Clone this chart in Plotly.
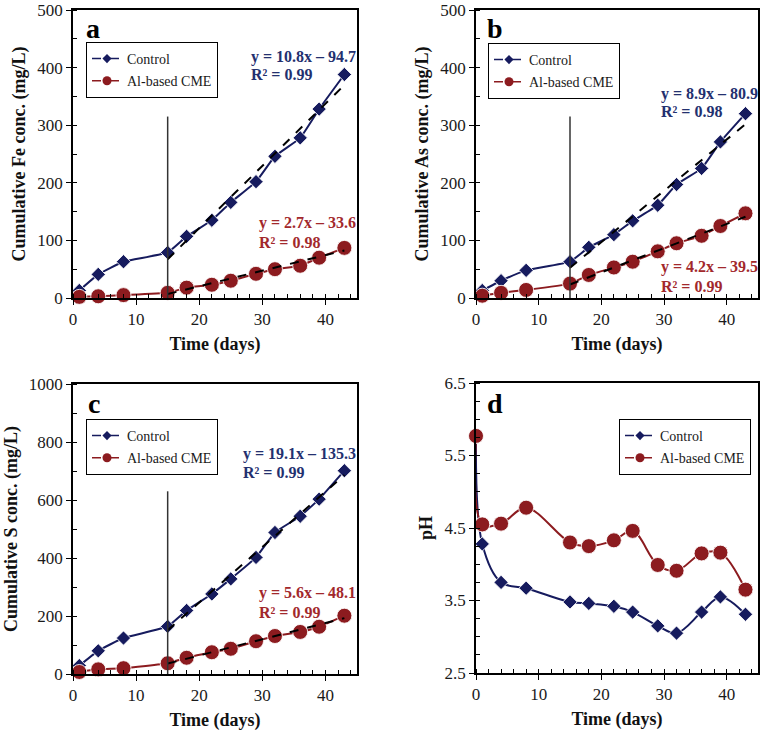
import plotly.graph_objects as go

# ---------------- data ----------------
days = [1, 4, 8, 15, 18, 22, 25, 29, 32, 36, 39, 43]

fe_control = [13, 41, 63, 79, 107, 135, 166, 202, 246, 278, 328, 388]
fe_al = [2, 3, 5, 9, 18, 23, 30, 42, 50, 56, 70, 87]

as_control = [13, 30, 48, 63, 88, 110, 134, 161, 197, 225, 271, 320]
as_al = [4, 9, 14, 25, 40, 53, 63, 81, 95, 108, 125, 147]

s_control = [29, 80, 124, 164, 219, 276, 328, 402, 488, 544, 603, 701]
s_al = [7, 16, 20, 37, 56, 75, 87, 113, 131, 145, 163, 201]

ph_days = [0, 1, 4, 8, 15, 18, 22, 25, 29, 32, 36, 39, 43]
ph_control = [5.77, 4.28, 3.75, 3.67, 3.48, 3.46, 3.42, 3.34, 3.15, 3.05, 3.34, 3.55, 3.31]
ph_al = [5.77, 4.55, 4.56, 4.78, 4.30, 4.25, 4.33, 4.46, 3.99, 3.91, 4.15, 4.16, 3.65]

fit_days = [15, 43]
fit_control = {"a": (10.8, -94.7, 0.99), "b": (8.9, -80.9, 0.98), "c": (19.1, -135.3, 0.99)}
fit_al = {"a": (2.7, -33.6, 0.98), "b": (4.2, -39.5, 0.99), "c": (5.6, -48.1, 0.99)}

split_day = 15
split_top = {"a": 315, "b": 315, "c": 630}

series_names = ["Control", "Al-based CME"]
y_titles = ["Cumulative Fe conc. (mg/L)", "Cumulative As conc. (mg/L)",
            "Cumulative S conc. (mg/L)", "pH"]

# ---------------- style ----------------
W, H = 761, 732
NAVY = "#161b5e"
RED = "#8c1b1f"
EQ_BLUE = "#23306f"
EQ_RED = "#a2282c"
FONT = "Liberation Serif"


def px(x):
    return x / W


def py(y):
    return 1 - y / H


fig = go.Figure()

panels = {
    "a": dict(xa="x", ya="y", xd=(73, 357), yd=(10, 298), leg="legend",
              ctrl=fe_control, al=fe_al),
    "b": dict(xa="x2", ya="y2", xd=(476, 758), yd=(10, 298), leg="legend2",
              ctrl=as_control, al=as_al),
    "c": dict(xa="x3", ya="y3", xd=(73, 357), yd=(384, 674), leg="legend3",
              ctrl=s_control, al=s_al),
    "d": dict(xa="x4", ya="y4", xd=(476, 758), yd=(383, 673), leg="legend4",
              ctrl=ph_control, al=ph_al),
}

marker_line = dict(color="rgba(255,255,255,0.85)", width=1)

for key, p in panels.items():
    xs = ph_days if key == "d" else days
    smooth = 1.0 if key == "d" else 0.4
    fig.add_trace(go.Scatter(
        x=xs, y=p["ctrl"], xaxis=p["xa"], yaxis=p["ya"], mode="lines+markers",
        line=dict(color=NAVY, width=2, shape="spline", smoothing=smooth),
        marker=dict(symbol="diamond", size=11, color=NAVY, line=marker_line),
        showlegend=False, cliponaxis=False))
    fig.add_trace(go.Scatter(
        x=xs, y=p["al"], xaxis=p["xa"], yaxis=p["ya"], mode="lines+markers",
        line=dict(color=RED, width=2, shape="spline", smoothing=smooth),
        marker=dict(symbol="circle", size=15, color=RED, line=marker_line),
        showlegend=False, cliponaxis=False))
    if key in fit_control:
        for fit in (fit_control[key], fit_al[key]):
            m, b, _ = fit
            fig.add_trace(go.Scatter(
                x=fit_days, y=[m * d + b for d in fit_days], xaxis=p["xa"], yaxis=p["ya"],
                mode="lines", line=dict(color="black", width=2, dash="dash"),
                showlegend=False, hoverinfo="skip"))
        fig.add_shape(type="line", xref=p["xa"], yref=p["ya"], x0=split_day, x1=split_day,
                      y0=0, y1=split_top[key], line=dict(color="#333333", width=1.5))
    # legend-only entries
    fig.add_trace(go.Scatter(
        x=[None], y=[None], xaxis=p["xa"], yaxis=p["ya"], mode="lines+markers",
        name=series_names[0], legend=p["leg"], legendgroup=key + "c",
        line=dict(color=NAVY, width=1.5, dash="dash"),
        marker=dict(symbol="diamond", size=7, color=NAVY)))
    fig.add_trace(go.Scatter(
        x=[None], y=[None], xaxis=p["xa"], yaxis=p["ya"], mode="lines+markers",
        name=series_names[1], legend=p["leg"], legendgroup=key + "r",
        line=dict(color=RED, width=1.5, dash="dash"),
        marker=dict(symbol="circle", size=9, color=RED)))

tickfont = dict(family=FONT, size=17, color="#1a1a1a")
titlefont = dict(family=FONT, size=18, color="#111111", weight="bold")

layout = dict(width=W, height=H, margin=dict(l=0, r=0, t=0, b=0, autoexpand=False),
              paper_bgcolor="white", plot_bgcolor="white", showlegend=True)

legend_pos = {"legend": (86, 42), "legend2": (488, 43), "legend3": (86, 419), "legend4": (619, 419)}
for name, (lx, ly) in legend_pos.items():
    layout[name] = dict(x=px(lx), y=py(ly), xanchor="left", yanchor="top",
                        xref="paper", yref="paper",
                        bgcolor="white", bordercolor="black", borderwidth=1,
                        font=dict(family=FONT, size=14, color="#1a1a1a"),
                        tracegroupgap=1, itemwidth=30)

for i, (key, p) in enumerate(panels.items()):
    sfx = "" if i == 0 else str(i + 1)
    x0, x1 = p["xd"]
    y0, y1 = p["yd"]
    layout["xaxis" + sfx] = dict(
        domain=[px(x0), px(x1)], anchor="y" + sfx, range=[0, 45], tick0=0, dtick=10,
        automargin=False, ticklabeloverflow="allow",
        ticks="outside", ticklen=5, tickwidth=1, tickcolor="black",
        showline=True, linecolor="black", linewidth=1.5, mirror=True,
        showgrid=False, zeroline=False, tickfont=tickfont,
        minor=dict(dtick=2, tick0=0, ticks="inside", ticklen=4, tickcolor="black", showgrid=False),
        title=dict(text="Time (days)", font=titlefont, standoff=9))
    if key == "d":
        yr, ydt, ymin, fmt = [2.5, 6.5], 1, 0.25, ".1f"
    elif key == "c":
        yr, ydt, ymin, fmt = [0, 1000], 200, 100, ""
    else:
        yr, ydt, ymin, fmt = [0, 500], 100, 50, ""
    layout["yaxis" + sfx] = dict(
        domain=[py(y1), py(y0)], anchor="x" + sfx, range=yr, tick0=yr[0], dtick=ydt,
        automargin=False, ticklabeloverflow="allow",
        tickformat=fmt, ticks="outside", ticklen=5, tickwidth=1, tickcolor="black",
        showline=True, linecolor="black", linewidth=1.5, mirror=True,
        showgrid=False, zeroline=False, tickfont=tickfont,
        minor=dict(dtick=ymin, tick0=yr[0], ticks="inside", ticklen=4, tickcolor="black", showgrid=False),
        title=dict(text=y_titles[i], font=titlefont, standoff=7))

fig.update_layout(**layout)

# panel letters
letters = {"a": (93, 28), "b": (495, 28), "c": (94, 403), "d": (495, 403)}
for k, (lx, ly) in letters.items():
    fig.add_annotation(x=px(lx), y=py(ly), xref="paper", yref="paper", text=k,
                       showarrow=False, xanchor="center", yanchor="middle",
                       font=dict(family=FONT, size=28, color="black", weight="bold"))

# equations
eq_pos = {
    "a": ((249, 57, 74), (257, 223, 243)),
    "b": ((659, 94, 112), (659, 267, 286)),
    "c": ((241, 454, 472), (257, 593, 612)),
}


def eq_text(m, b):
    sign = "–" if b < 0 else "+"
    return f"y = {m:.1f}x {sign} {abs(b):.1f}"


for k, (bp, rp) in eq_pos.items():
    for fit, pos, col in ((fit_control[k], bp, EQ_BLUE), (fit_al[k], rp, EQ_RED)):
        m, b, r2 = fit
        lx, l1, l2 = pos
        fig.add_annotation(x=px(lx), y=py(l1), xref="paper", yref="paper", text=eq_text(m, b),
                           showarrow=False, xanchor="left", yanchor="middle",
                           font=dict(family=FONT, size=16, color=col, weight="bold"))
        fig.add_annotation(x=px(lx), y=py(l2), xref="paper", yref="paper", text=f"R² = {r2:.2f}",
                           showarrow=False, xanchor="left", yanchor="middle",
                           font=dict(family=FONT, size=16, color=col, weight="bold"))

fig.write_html("out.html", config={"displayModeBar": False},
               post_script="document.body.style.margin='0px';")
